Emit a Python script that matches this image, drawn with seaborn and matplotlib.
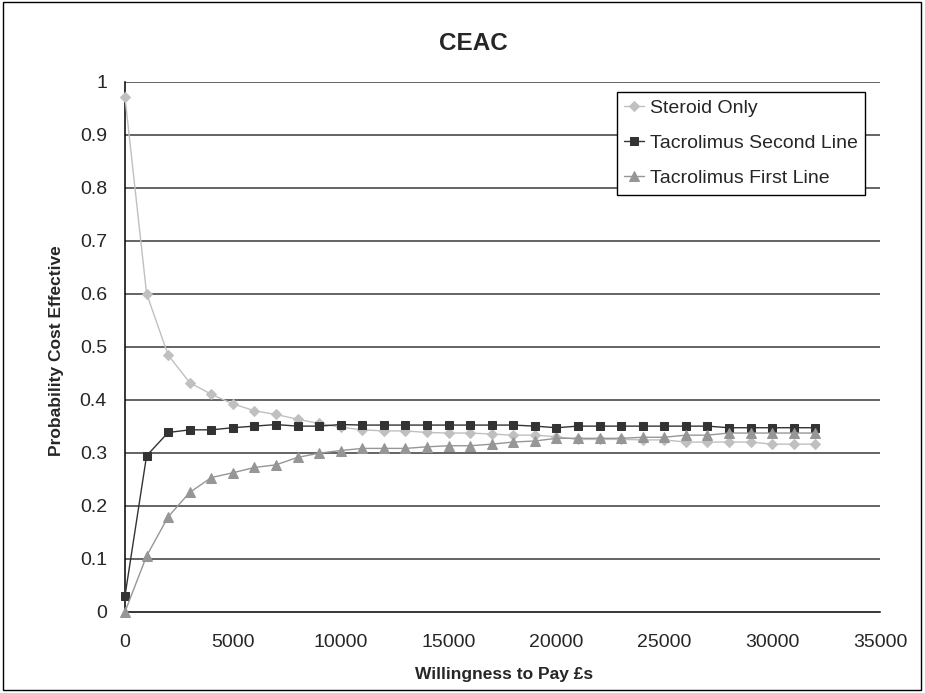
import matplotlib
matplotlib.use("Agg")
import matplotlib.pyplot as plt
import seaborn as sns
import pandas as pd
from matplotlib.patches import Rectangle

wtp = list(range(0, 33000, 1000))
steroid_only = [0.970, 0.600, 0.484, 0.432, 0.410, 0.392, 0.379, 0.372, 0.363, 0.355,
                0.348, 0.343, 0.341, 0.341, 0.338, 0.337, 0.337, 0.335, 0.333, 0.333,
                0.330, 0.325, 0.325, 0.325, 0.324, 0.324, 0.320, 0.320, 0.320, 0.320,
                0.316, 0.316, 0.316]
tac_second = [0.030, 0.294, 0.338, 0.343, 0.343, 0.347, 0.350, 0.353, 0.350, 0.350,
              0.353, 0.352, 0.352, 0.352, 0.352, 0.352, 0.352, 0.352, 0.352, 0.350,
              0.347, 0.350, 0.350, 0.350, 0.350, 0.350, 0.350, 0.350, 0.347, 0.347,
              0.347, 0.347, 0.347]
tac_first = [0.000, 0.105, 0.179, 0.225, 0.253, 0.262, 0.272, 0.277, 0.291, 0.299,
             0.304, 0.308, 0.308, 0.308, 0.311, 0.313, 0.313, 0.316, 0.320, 0.322,
             0.327, 0.327, 0.327, 0.327, 0.329, 0.329, 0.333, 0.333, 0.337, 0.337,
             0.337, 0.337, 0.337]
series_names = ["Steroid Only", "Tacrolimus Second Line", "Tacrolimus First Line"]
x_ticks = [0, 5000, 10000, 15000, 20000, 25000, 30000, 35000]
y_ticks = [0, 0.1, 0.2, 0.3, 0.4, 0.5, 0.6, 0.7, 0.8, 0.9, 1]
y_tick_labels = ["0", "0.1", "0.2", "0.3", "0.4", "0.5", "0.6", "0.7", "0.8", "0.9", "1"]

sns.set_style("white")
plt.rcParams["font.family"] = ["Liberation Sans", "DejaVu Sans"]

fig = plt.figure(figsize=(9.25, 6.93), dpi=100)
ax = fig.add_axes([125/925, 1-611.7/693, (880-125)/925, (611.7-81.5)/693])

styles = [
    dict(color="#C0C0C0", marker="D", ms=5.0),
    dict(color="#333333", marker="s", ms=5.5),
    dict(color="#969696", marker="^", ms=6.5),
]
values = [steroid_only, tac_second, tac_first]
for name, vals, st in zip(series_names, values, styles):
    df = pd.DataFrame({"wtp": wtp, "p": vals})
    sns.lineplot(data=df, x="wtp", y="p", ax=ax, color=st["color"], marker=st["marker"],
                 markersize=st["ms"], markeredgecolor=st["color"], linewidth=1.0,
                 label=name, clip_on=False, zorder=3)

ax.set_xlim(0, 35000)
ax.set_ylim(0, 1)
ax.set_xticks(x_ticks)
ax.set_xticklabels([str(v) for v in x_ticks], fontsize=14)
ax.set_yticks(y_ticks)
ax.set_yticklabels(y_tick_labels, fontsize=14)
for yv in y_ticks[1:]:
    ax.axhline(yv, color="#3a3a3a", lw=1.1, zorder=1)
for s in ["top", "right"]:
    ax.spines[s].set_visible(False)
for s in ["left", "bottom"]:
    ax.spines[s].set_color("black")
    ax.spines[s].set_linewidth(1.1)
ax.tick_params(axis="both", direction="out", length=5, width=1, color="black")
ax.tick_params(axis="y", pad=8)
ax.tick_params(axis="x", pad=11)

ax.set_xlabel("Willingness to Pay £s", fontsize=12.5, fontweight="bold", va="center")
ax.xaxis.set_label_coords((504-125)/755, (611.7-675)/530.2)
ax.set_ylabel("Probability Cost Effective", fontsize=12.5, fontweight="bold", va="center")
ax.yaxis.set_label_coords((57-125)/755, (611.7-351)/530.2)
fig.text(473/925, 1-44/693, "CEAC", ha="center", va="center", fontsize=17.5, fontweight="bold")

leg = ax.legend(loc="upper left", bbox_to_anchor=((617-125)/755, (611.7-92)/530.2),
                fontsize=14, frameon=True, fancybox=False, edgecolor="black",
                framealpha=1, borderpad=0.38, handlelength=1.0, labelspacing=0.9,
                handletextpad=0.3, borderaxespad=0)
leg.get_frame().set_linewidth(1)
leg.set_zorder(5)

fig.patches.append(Rectangle((0.003, 0.004), 0.993, 0.993, transform=fig.transFigure,
                             fill=False, edgecolor="black", lw=1))
fig.savefig("out.png", dpi=100)
